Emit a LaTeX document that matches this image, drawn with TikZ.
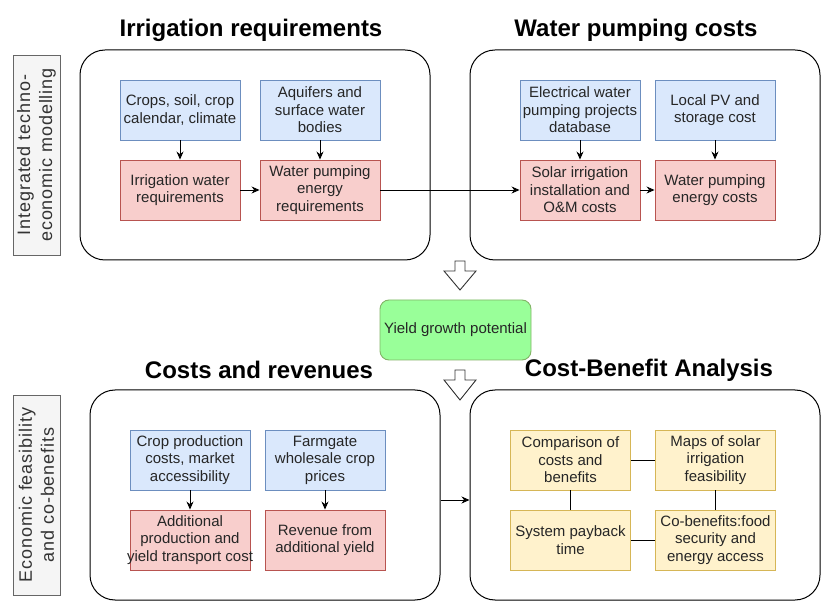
\documentclass[tikz,border=0pt]{standalone}
\usepackage{fontspec}
\setmainfont{Liberation Sans}
\usepackage{xcolor}
\usetikzlibrary{arrows.meta}

\definecolor{bluefill}{HTML}{DAE8FC}
\definecolor{blueline}{HTML}{6C8EBF}
\definecolor{redfill}{HTML}{F8CECC}
\definecolor{redline}{HTML}{B85450}
\definecolor{yellowfill}{HTML}{FFF2CC}
\definecolor{yellowline}{HTML}{D6B656}
\definecolor{greenfill}{HTML}{99FF99}
\definecolor{greenline}{HTML}{82B366}
\definecolor{grayfill}{HTML}{F5F5F5}
\definecolor{grayline}{HTML}{666666}
\definecolor{graytext}{HTML}{333333}

\begin{document}
\begin{tikzpicture}[x=1pt,y=-1pt,
        box/.style={draw,line width=0.9pt,minimum width=120pt,minimum height=60pt,inner sep=2pt,align=center,font=\fontsize{15}{17.5}\selectfont,text=black!85},
        inbox/.style={box,fill=bluefill,draw=blueline},
        outbox/.style={box,fill=redfill,draw=redline},
        resbox/.style={box,fill=yellowfill,draw=yellowline},
        panel/.style={draw,line width=1pt,rounded corners=25pt,minimum width=350pt,minimum height=210pt},
        sidelabel/.style={draw=grayline,fill=grayfill,text=graytext,rotate=90,minimum width=200pt,minimum height=47pt,inner sep=0pt,align=center,font=\fontsize{18}{22}\selectfont\addfontfeature{LetterSpace=5}},
        title/.style={font=\bfseries\fontsize{24}{28}\selectfont},
        link/.style={line width=0.9pt,-{Stealth[length=8pt,width=7pt]}},
        hollow/.style={draw=black!80,fill=white,line width=0.9pt}
    ]
        \useasboundingbox (0,0) rectangle (822,601);

        \node[sidelabel] (modlabel) at (36.5,155) {Integrated techno-\\economic modelling};
        \node[sidelabel] (feaslabel) at (36.5,495) {Economic feasibility\\and co-benefits};

        \node[panel] (irrpanel)  at (255,155) {};
        \node[panel] (pumppanel) at (645,155) {};
        \node[panel] (costpanel) at (265,495) {};
        \node[panel] (cbapanel)  at (645,495) {};

        \node[title] (irrtitle)  at (251,30)  {Irrigation requirements};
        \node[title] (pumptitle) at (636,30)  {Water pumping costs};
        \node[title] (costtitle) at (259,370) {Costs and revenues};
        \node[title] (cbatitle)  at (649,370) {Cost-Benefit Analysis};

        \node[inbox]  (crops)  at (180,110) {Crops, soil, crop\\calendar, climate};
        \node[inbox]  (aquif)  at (320,110) {Aquifers and\\surface water\\bodies};
        \node[outbox] (irrwat) at (180,190) {Irrigation water\\requirements};
        \node[outbox] (wpreq)  at (320,190) {Water pumping\\energy\\requirements};

        \node[inbox]  (elec)    at (580,110) {Electrical water\\pumping projects\\database};
        \node[inbox]  (localpv) at (715,110) {Local PV and\\storage cost};
        \node[outbox] (solar)   at (580,190) {Solar irrigation\\installation and\\O\&M costs};
        \node[outbox] (wpcost)  at (715,190) {Water pumping\\energy costs};

        \node[draw=greenline,fill=greenfill,line width=0.9pt,rounded corners=9pt,minimum width=151pt,minimum height=60pt,font=\fontsize{15}{17.5}\selectfont,text=black!85] (yield) at (455.5,330) {Yield growth potential};

        \node[inbox]  (cropprod) at (190,460) {Crop production\\costs, market\\accessibility};
        \node[inbox]  (farmgate) at (325,460) {Farmgate\\wholesale crop\\prices};
        \node[outbox] (addprod)  at (190,540) {Additional\\production and\\\makebox[110pt]{yield transport cost}};
        \node[outbox] (revenue)  at (325,540) {Revenue from\\additional yield};

        \node[resbox] (compare) at (570.5,460) {Comparison of\\costs and\\benefits};
        \node[resbox] (maps)    at (715.5,460) {Maps of solar\\irrigation\\feasibility};
        \node[resbox] (payback) at (570.5,540) {System payback\\time};
        \node[resbox] (cobenef) at (715.5,540) {Co-benefits:food\\security and\\energy access};

        \draw[link] (crops) -- (irrwat);
        \draw[link] (aquif) -- (wpreq);
        \draw[link] (irrwat) -- (wpreq);
        \draw[link] (wpreq) -- (solar);
        \draw[link] (elec) -- (solar);
        \draw[link] (localpv) -- (wpcost);
        \draw[link] (solar) -- (wpcost);
        \draw[link] (cropprod) -- (addprod);
        \draw[link] (farmgate) -- (revenue);
        \draw[link] ([yshift=-5pt]costpanel.east) -- ([yshift=-5pt]cbapanel.west);

        \draw[line width=0.9pt] (compare) -- (maps);
        \draw[line width=0.9pt] (compare) -- (payback);
        \draw[line width=0.9pt] (maps) -- (cobenef);
        \draw[line width=0.9pt] (payback) -- (cobenef);

        \draw[hollow] (455,261) -- (465,261) -- (465,271) -- (476,271) -- (460,290) -- (444,271) -- (455,271) -- cycle;
        \draw[hollow] (455,370) -- (465,370) -- (465,380) -- (476,380) -- (460,400) -- (444,380) -- (455,380) -- cycle;
    \end{tikzpicture}
\end{document}
